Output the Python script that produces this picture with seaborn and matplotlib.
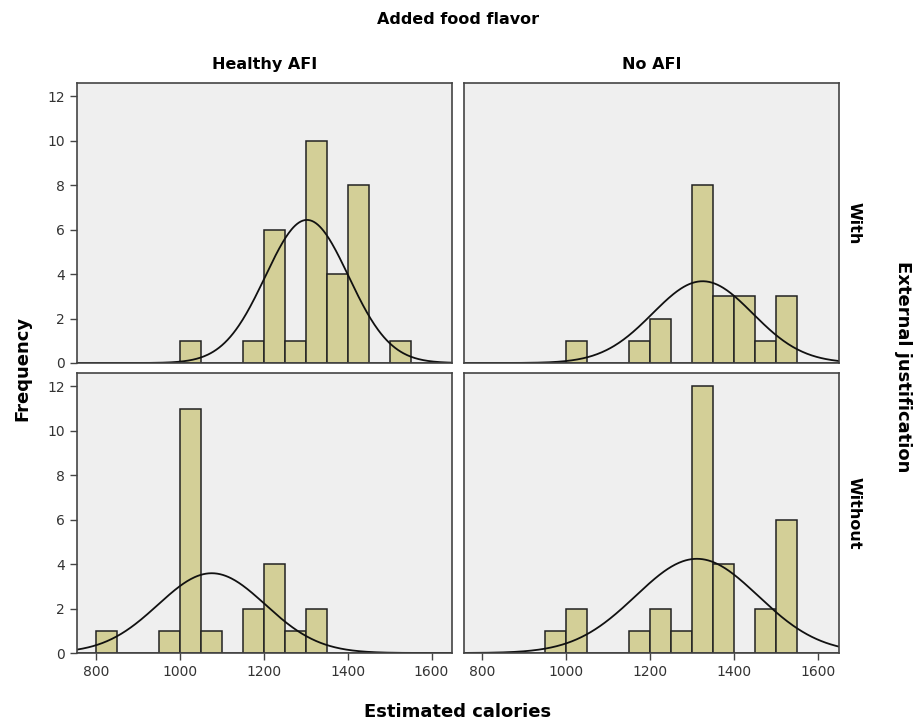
import numpy as np
import pandas as pd
import matplotlib
matplotlib.use("Agg")
import matplotlib.pyplot as plt
import seaborn as sns

# Bin left edges (width 50) and counts per panel
bin_edges = [800, 850, 900, 950, 1000, 1050, 1100, 1150, 1200, 1250, 1300, 1350, 1400, 1450, 1500, 1550]
counts_healthy_with = [0, 0, 0, 0, 1, 0, 0, 1, 6, 1, 10, 4, 8, 0, 1, 0]
counts_noafi_with = [0, 0, 0, 0, 1, 0, 0, 1, 2, 0, 8, 3, 3, 1, 3, 0]
counts_healthy_without = [1, 0, 0, 1, 11, 1, 0, 2, 4, 1, 2, 0, 0, 0, 0, 0]
counts_noafi_without = [0, 0, 0, 1, 2, 0, 0, 1, 2, 1, 12, 4, 0, 2, 6, 0]

col_labels = ["Healthy AFI", "No AFI"]
row_labels = ["With", "Without"]
y_ticks = [0, 2, 4, 6, 8, 10, 12]
x_ticks = [800, 1000, 1200, 1400, 1600]

panels = {
    ("With", "Healthy AFI"): counts_healthy_with,
    ("With", "No AFI"): counts_noafi_with,
    ("Without", "Healthy AFI"): counts_healthy_without,
    ("Without", "No AFI"): counts_noafi_without,
}

sns.set_style("white")
plt.rcParams["font.family"] = ["DejaVu Sans"]
plt.rcParams["text.color"] = "black"

fig, axes = plt.subplots(2, 2, figsize=(9.19, 7.27), dpi=100, sharex=True, sharey=True)
fig.subplots_adjust(left=77/919, right=839/919, bottom=1-653/727, top=1-83/727,
                    wspace=11/375, hspace=10/280)

bins = np.arange(750, 1701, 50)
fill = "#D3CF97"
edge = "#222222"
bg = "#EFEFEF"

for i, r in enumerate(row_labels):
    for j, c in enumerate(col_labels):
        ax = axes[i, j]
        vals = np.repeat(bin_edges, panels[(r, c)]).astype(float)
        sns.histplot(x=vals, bins=bins, ax=ax, color=fill, edgecolor=edge,
                     linewidth=1.1, alpha=1.0)
        mu, sd = vals.mean(), vals.std(ddof=1)
        xs = np.linspace(755, 1650, 400)
        ys = len(vals) * 50 * np.exp(-0.5 * ((xs - mu) / sd) ** 2) / (sd * np.sqrt(2 * np.pi))
        sns.lineplot(x=xs, y=ys, ax=ax, color="#111111", linewidth=1.3)
        ax.set_facecolor(bg)
        ax.set_xlim(755, 1650)
        ax.set_ylim(0, 12.6)
        ax.set_xlabel("")
        ax.set_ylabel("")
        for s in ax.spines.values():
            s.set_color("#444444")
            s.set_linewidth(1.2)
        ax.set_yticks(y_ticks)
        ax.set_xticks(x_ticks)
        ax.tick_params(axis="both", direction="out", length=5, width=1, color="#444444",
                       labelsize=10, labelcolor="#333333")
        if j == 1:
            ax.tick_params(axis="y", left=False, labelleft=False)
        else:
            ax.tick_params(axis="y", left=True, labelleft=True)
        if i == 0:
            ax.tick_params(axis="x", bottom=False, labelbottom=False)
        else:
            ax.tick_params(axis="x", bottom=True, labelbottom=True)

# column titles
for j, c in enumerate(col_labels):
    axes[0, j].set_title(c, fontsize=11.5, fontweight="bold", pad=10, color="black")
# row labels
for i, r in enumerate(row_labels):
    axes[i, 1].text(1.04, 0.5, r, transform=axes[i, 1].transAxes, rotation=270,
                    ha="center", va="center", fontsize=11.5, fontweight="bold", color="black")

fig.text(458/919, 1-20/727, "Added food flavor", ha="center", va="center",
         fontsize=11.5, fontweight="bold", color="black")
fig.text(458/919, 1-712/727, "Estimated calories", ha="center", va="center",
         fontsize=13, fontweight="bold", color="black")
fig.text(22/919, 1-368/727, "Frequency", ha="center", va="center", rotation=90,
         fontsize=13, fontweight="bold", color="black")
fig.text(903/919, 1-367/727, "External justification", ha="center", va="center",
         rotation=270, fontsize=13, fontweight="bold", color="black")

fig.savefig("out.png", dpi=100, facecolor="white")
